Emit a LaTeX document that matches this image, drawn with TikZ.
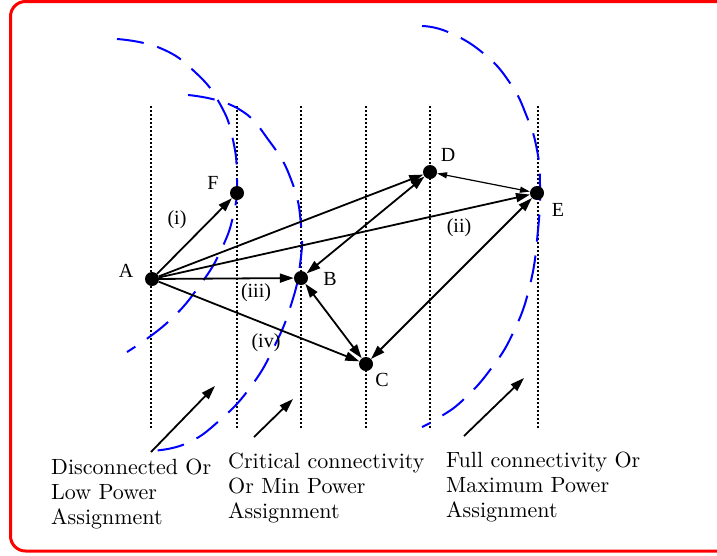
\documentclass[tikz,border=0pt]{standalone}
\usepackage{fontspec}
\usetikzlibrary{arrows.meta}
\newfontfamily\lmten{lmroman10-regular.otf}
\newfontfamily\lblfont{Liberation Serif}
\tikzset{
  dot/.style={circle,fill=black,inner sep=0pt,minimum size=14pt},
  lbl/.style={font=\lblfont\fontsize{20}{22}\selectfont,inner sep=0pt},
  caption/.style={font=\lmten\fontsize{22}{25}\selectfont,align=left,anchor=base west,inner sep=0pt},
  levelline/.style={line width=1.3pt,dash pattern=on 2pt off 2pt},
  radiorange/.style={blue,line width=2pt,dash pattern=on 27pt off 14pt},
  link/.style={line width=1.8pt,-{Triangle[length=14pt,width=9pt]}},
  dlink/.style={line width=1.8pt,{Triangle[length=14pt,width=9pt]}-{Triangle[length=14pt,width=9pt]}},
  thinlink/.style={line width=1.2pt,{Triangle[length=10pt,width=6pt]}-{Triangle[length=10pt,width=6pt]}},
  pointer/.style={line width=1.8pt,-{Triangle[length=14pt,width=9pt]}}
}
\begin{document}
\begin{tikzpicture}[x=1pt,y=-1pt]
\fill[white,use as bounding box] (0,0) rectangle (717,555);
\draw[red,line width=3pt,rounded corners=15pt] (10.5,1.5) rectangle (740,551);
% level lines
\foreach \xx/\nm in {151/l1,237/l2,301/l3,366/l4,430/l5,538/l6}{
  \coordinate (\nm t) at (\xx,106);
  \coordinate (\nm b) at (\xx,429);
  \draw[levelline] (\nm t) -- (\nm b);
}
% range arcs
\draw[radiorange] plot[smooth,tension=0.8] coordinates {(117,39) (160,48) (195,72) (220,104) (233,140) (237,180) (234,212) (222,248) (200,285) (168,322) (127,352)};
\draw[radiorange] plot[smooth,tension=0.8] coordinates {(188,95) (237,108) (270,142) (292,182) (301,225) (300,265) (291,305) (275,345) (252,385) (220,420) (185,444) (148,451)};
\draw[radiorange] plot[smooth,tension=0.8] coordinates {(422,26) (448,32) (483,53) (510,83) (527,117) (537,150) (540,185) (538,230) (530,285) (513,333) (490,370) (463,400) (440,417) (422,427)};
% nodes
\node[dot] (A) at (152,279) {};
\node[dot] (F) at (237,193) {};
\node[dot] (B) at (301,278) {};
\node[dot] (C) at (366,364) {};
\node[dot] (D) at (430,172) {};
\node[dot] (E) at (537,193) {};
\node[lbl] (lA) at (126,271) {A};
\node[lbl] (lF) at (213,183) {F};
\node[lbl] (lB) at (330,279) {B};
\node[lbl] (lC) at (382,380) {C};
\node[lbl] (lD) at (448,155) {D};
\node[lbl] (lE) at (558,210) {E};
\node[lbl] (li) at (177,220) {(i)};
\node[lbl] (lii) at (459,228) {(ii)};
\node[lbl] (liii) at (256,293) {(iii)};
\node[lbl] (liv) at (266,343) {(iv)};
% links
\draw[link] (A) -- (F);
\draw[link] (A) -- (D);
\draw[link] (A) -- (E);
\draw[link] (A) -- (B);
\draw[link] (A) -- (C);
\draw[dlink] (D) -- (B);
\draw[dlink] (B) -- (C);
\draw[dlink] (C) -- (E);
\draw[thinlink] (D) -- (E);
% pointers
\coordinate (p1t) at (151,452); \coordinate (p1h) at (215,386);
\coordinate (p2t) at (254,437); \coordinate (p2h) at (293,399);
\coordinate (p3t) at (464,436); \coordinate (p3h) at (524,378);
\draw[pointer] (p1t) -- (p1h);
\draw[pointer] (p2t) -- (p2h);
\draw[pointer] (p3t) -- (p3h);
% captions (base anchor = last line)
\node[caption] (c1) at (51,524) {Disconnected Or\\Low Power\\Assignment};
\node[caption] (c2) at (228,518) {Critical connectivity\\Or Min Power\\Assignment};
\node[caption] (c3) at (446,517) {Full connectivity Or\\Maximum Power\\Assignment};
\end{tikzpicture}
\end{document}
